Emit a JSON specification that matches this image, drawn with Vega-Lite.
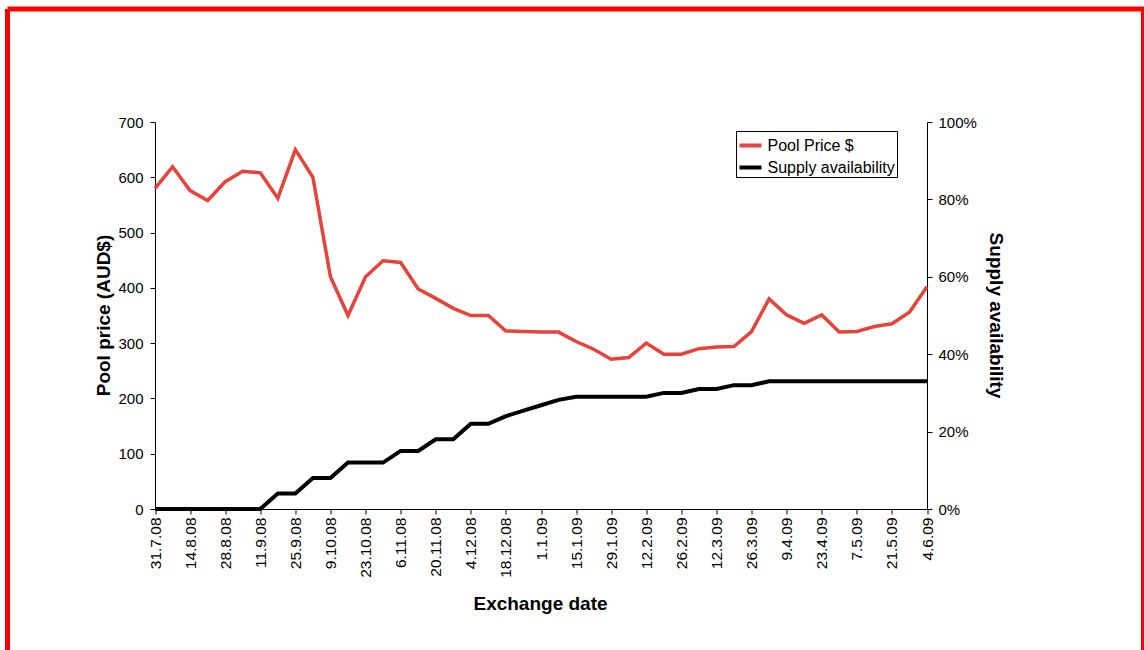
{
  "$schema": "https://vega.github.io/schema/vega-lite/v6.json",
  "width": 1136,
  "height": 641,
  "autosize": {"type": "none"},
  "padding": {"left": 7.5, "top": 9, "right": 0.5, "bottom": 0},
  "background": "white",
  "config": {
    "view": {"stroke": "#FF0000", "strokeWidth": 5, "strokeDash": [1777, 1136, 641, 0], "fill": "white"},
    "axis": {
      "grid": false,
      "domainColor": "black",
      "domainWidth": 1,
      "tickColor": "black",
      "tickSize": 5,
      "labelColor": "black",
      "titleColor": "black",
      "labelFont": "Liberation Sans",
      "titleFont": "Liberation Sans",
      "labelFontSize": 15,
      "titleFontSize": 19,
      "titleFontWeight": "bold"
    },
    "legend": {"labelFont": "Liberation Sans", "labelFontSize": 16, "labelColor": "black"}
  },
  "data": {
    "values": [
      {"date": "31.7.08", "price": 580, "supply": 0},
      {"date": "7.8.08", "price": 619, "supply": 0},
      {"date": "14.8.08", "price": 576, "supply": 0},
      {"date": "21.8.08", "price": 558, "supply": 0},
      {"date": "28.8.08", "price": 592, "supply": 0},
      {"date": "4.9.08", "price": 611, "supply": 0},
      {"date": "11.9.08", "price": 608, "supply": 0},
      {"date": "18.9.08", "price": 562, "supply": 0.04},
      {"date": "25.9.08", "price": 650, "supply": 0.04},
      {"date": "2.10.08", "price": 600, "supply": 0.08},
      {"date": "9.10.08", "price": 420, "supply": 0.08},
      {"date": "16.10.08", "price": 350, "supply": 0.12},
      {"date": "23.10.08", "price": 420, "supply": 0.12},
      {"date": "30.10.08", "price": 449, "supply": 0.12},
      {"date": "6.11.08", "price": 446, "supply": 0.15},
      {"date": "13.11.08", "price": 398, "supply": 0.15},
      {"date": "20.11.08", "price": 381, "supply": 0.18},
      {"date": "27.11.08", "price": 363, "supply": 0.18},
      {"date": "4.12.08", "price": 350, "supply": 0.22},
      {"date": "11.12.08", "price": 350, "supply": 0.22},
      {"date": "18.12.08", "price": 322, "supply": 0.24},
      {"date": "25.12.08", "price": 321, "supply": 0.254},
      {"date": "1.1.09", "price": 320, "supply": 0.268},
      {"date": "8.1.09", "price": 320, "supply": 0.282},
      {"date": "15.1.09", "price": 303, "supply": 0.29},
      {"date": "22.1.09", "price": 289, "supply": 0.29},
      {"date": "29.1.09", "price": 271, "supply": 0.29},
      {"date": "5.2.09", "price": 274, "supply": 0.29},
      {"date": "12.2.09", "price": 300, "supply": 0.29},
      {"date": "19.2.09", "price": 280, "supply": 0.30},
      {"date": "26.2.09", "price": 280, "supply": 0.30},
      {"date": "5.3.09", "price": 290, "supply": 0.31},
      {"date": "12.3.09", "price": 293, "supply": 0.31},
      {"date": "19.3.09", "price": 294, "supply": 0.32},
      {"date": "26.3.09", "price": 321, "supply": 0.32},
      {"date": "2.4.09", "price": 380, "supply": 0.33},
      {"date": "9.4.09", "price": 351, "supply": 0.33},
      {"date": "16.4.09", "price": 336, "supply": 0.33},
      {"date": "23.4.09", "price": 351, "supply": 0.33},
      {"date": "30.4.09", "price": 320, "supply": 0.33},
      {"date": "7.5.09", "price": 321, "supply": 0.33},
      {"date": "14.5.09", "price": 330, "supply": 0.33},
      {"date": "21.5.09", "price": 335, "supply": 0.33},
      {"date": "28.5.09", "price": 356, "supply": 0.33},
      {"date": "4.6.09", "price": 402, "supply": 0.33}
    ]
  },
  "encoding": {
    "x": {
      "field": "date",
      "type": "ordinal",
      "sort": null,
      "scale": {"type": "point", "range": [147.5, 919.5], "padding": 0},
      "axis": {
        "title": "Exchange date",
        "values": ["31.7.08", "14.8.08", "28.8.08", "11.9.08", "25.9.08", "9.10.08", "23.10.08", "6.11.08", "20.11.08", "4.12.08", "18.12.08", "1.1.09", "15.1.09", "29.1.09", "12.2.09", "26.2.09", "12.3.09", "26.3.09", "9.4.09", "23.4.09", "7.5.09", "21.5.09", "4.6.09"],
        "offset": -141,
        "labelAngle": -90,
        "labelAlign": "right",
        "labelBaseline": "middle",
        "labelPadding": 3,
        "labelFontSize": 15.5,
        "labelOverlap": false,
        "titleX": 532.5,
        "titleY": 94,
        "titleAlign": "center",
        "titleBaseline": "middle",
        "titleAngle": 0
      }
    }
  },
  "layer": [
    {
      "mark": {"type": "line", "color": "#E8423A", "strokeWidth": 3.5},
      "encoding": {
        "y": {
          "field": "price",
          "type": "quantitative",
          "scale": {"domain": [0, 700], "range": [500, 113], "nice": false, "zero": true},
          "axis": {
            "title": "Pool price (AUD$)",
            "orient": "left",
            "values": [0, 100, 200, 300, 400, 500, 600, 700],
            "offset": -147.5,
            "labelPadding": 7,
            "titleX": -52,
            "titleY": 306,
            "titleAngle": -90,
            "titleAlign": "center",
            "titleBaseline": "middle"
          }
        },
        "color": {
          "datum": "Pool Price $",
          "type": "nominal",
          "scale": {"domain": ["Pool Price $", "Supply availability"], "range": ["#E8423A", "#000000"]},
          "legend": {
            "title": null,
            "orient": "none",
            "legendX": 728.5,
            "legendY": 122,
            "strokeColor": "black",
            "fillColor": "white",
            "padding": 1.5,
            "rowPadding": 1,
            "symbolType": "stroke",
            "symbolSize": 484,
            "symbolStrokeWidth": 4,
            "labelOffset": 4
          }
        }
      }
    },
    {
      "mark": {"type": "line", "color": "#000000", "strokeWidth": 4},
      "encoding": {
        "y": {
          "field": "supply",
          "type": "quantitative",
          "scale": {"domain": [0, 1], "range": [500, 113], "nice": false},
          "axis": {
            "title": "Supply availability",
            "orient": "right",
            "values": [0, 0.2, 0.4, 0.6, 0.8, 1],
            "format": ".0%",
            "offset": -216.5,
            "labelPadding": 6,
            "titleX": 68,
            "titleY": 306,
            "titleAngle": 90,
            "titleAlign": "center",
            "titleBaseline": "middle"
          }
        },
        "color": {"datum": "Supply availability", "type": "nominal"}
      }
    }
  ],
  "resolve": {"scale": {"y": "independent"}}
}
